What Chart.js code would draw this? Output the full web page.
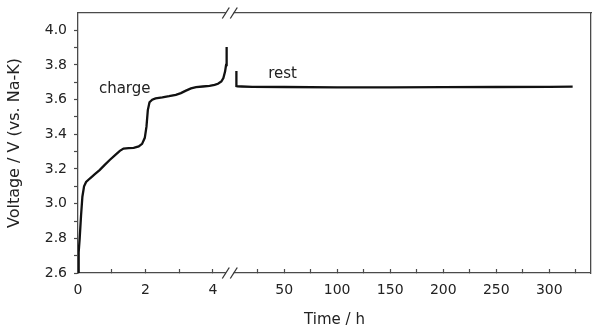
<!DOCTYPE html>
<html>
<head>
<meta charset="utf-8">
<script src="https://cdn.jsdelivr.net/npm/chart.js@4.4.1/dist/chart.umd.min.js"></script>
<style>
html,body{margin:0;padding:0;background:#fff;}
#wrap{width:600px;height:334px;position:relative;}
</style>
</head>
<body>
<div id="wrap"><canvas id="c" width="600" height="334"></canvas></div>
<script>
// ---- data ----
const chargeTime = [0, 0.02, 0.05, 0.09, 0.13, 0.18, 0.24, 0.35, 0.5, 0.64, 0.8, 0.94, 1.1, 1.24, 1.35, 1.5, 1.65, 1.8, 1.9, 1.98, 2.03, 2.07, 2.12, 2.2, 2.3, 2.5, 2.7, 2.9, 3.05, 3.2, 3.35, 3.5, 3.7, 3.9, 4.05, 4.15, 4.25, 4.31, 4.36, 4.39, 4.40, 4.41, 4.41];
const chargeVoltage = [2.6, 2.72, 2.80, 2.93, 3.04, 3.10, 3.125, 3.145, 3.17, 3.194, 3.225, 3.252, 3.28, 3.305, 3.318, 3.32, 3.322, 3.33, 3.345, 3.38, 3.444, 3.54, 3.585, 3.600, 3.607, 3.613, 3.62, 3.628, 3.638, 3.652, 3.665, 3.672, 3.676, 3.68, 3.685, 3.692, 3.705, 3.725, 3.762, 3.80, 3.83, 3.87, 3.904];
const restTime = [5, 5, 6, 10, 20, 50, 100, 150, 200, 250, 300, 322];
const restVoltage = [3.765, 3.678, 3.677, 3.676, 3.674, 3.673, 3.671, 3.671, 3.672, 3.673, 3.674, 3.675];

const yMajorTicks = [2.6, 2.8, 3.0, 3.2, 3.4, 3.6, 3.8, 4.0];
const yMinorTicks = [2.7, 2.9, 3.1, 3.3, 3.5, 3.7, 3.9];
const xLeftMajorTicks = [0, 2, 4];
const xLeftMinorTicks = [1, 3];
const xRightMajorTicks = [50, 100, 150, 200, 250, 300];
const xRightMinorTicks = [25, 75, 125, 175, 225, 275, 325];

const yTitle = 'Voltage / V (vs. Na-K)';
const xTitle = 'Time / h';
const chargeText = 'charge';
const restText = 'rest';
// annotation anchors in data units
const chargeAnchor = [0.62, 3.638];
const restAnchor = [35, 3.724];

// ---- styling ----
const axisColor = '#4a4a4a';
const textColor = '#222';
Chart.defaults.font.family = '"DejaVu Sans", sans-serif';
Chart.defaults.color = textColor;

function makeTicks(major, minor) {
  return major.concat(minor).sort((a, b) => a - b).map(v => ({ value: v }));
}
function toPoints(xs, ys) {
  return xs.map((x, i) => ({ x: x, y: ys[i] }));
}
function noPad(s) {
  s.paddingLeft = 0; s.paddingRight = 0; s.paddingTop = 0; s.paddingBottom = 0;
}

const decor = {
  id: 'decor',
  afterDraw(chart) {
    const { ctx, chartArea: a, scales } = chart;
    const bx = scales.xL.right;
    ctx.save();
    [a.top, a.bottom].forEach(y => {
      ctx.fillStyle = '#fff';
      ctx.fillRect(bx - 4, y - 2, 8, 4);
      ctx.strokeStyle = '#333';
      ctx.lineWidth = 1.3;
      [-4, 4].forEach(dx => {
        ctx.beginPath();
        ctx.moveTo(bx + dx - 3.5, y + 5.5);
        ctx.lineTo(bx + dx + 3.5, y - 5.5);
        ctx.stroke();
      });
    });
    ctx.fillStyle = textColor;
    ctx.font = '15px "DejaVu Sans"';
    ctx.textBaseline = 'alphabetic';
    ctx.textAlign = 'center';
    ctx.fillText(xTitle, (a.left + a.right) / 2, a.bottom + 51);
    ctx.textAlign = 'left';
    ctx.fillText(chargeText, scales.xL.getPixelForValue(chargeAnchor[0]), scales.y.getPixelForValue(chargeAnchor[1]));
    ctx.fillText(restText, scales.xR.getPixelForValue(restAnchor[0]), scales.y.getPixelForValue(restAnchor[1]));
    ctx.restore();
  }
};

const xBottomCommon = {
  type: 'linear',
  position: 'bottom',
  stack: 'bottomStack',
  afterFit: s => { s.height = 25; noPad(s); },
  grid: { display: true, drawOnChartArea: false, drawTicks: true, tickLength: -4, tickColor: axisColor, tickWidth: 1.2 },
  border: { display: true, color: axisColor, width: 1.3 }
};

new Chart(document.getElementById('c'), {
  type: 'line',
  data: {
    datasets: [
      {
        label: 'charge',
        data: toPoints(chargeTime, chargeVoltage),
        xAxisID: 'xL', yAxisID: 'y',
        borderColor: '#111', borderWidth: 2.3, pointRadius: 0, tension: 0, fill: false
      },
      {
        label: 'rest',
        data: toPoints(restTime, restVoltage),
        xAxisID: 'xR', yAxisID: 'y',
        borderColor: '#111', borderWidth: 2.3, pointRadius: 0, tension: 0, fill: false
      }
    ]
  },
  options: {
    responsive: false,
    animation: false,
    devicePixelRatio: 1,
    layout: { padding: { left: 0, top: 13, right: 9, bottom: 36 } },
    plugins: { legend: { display: false }, tooltip: { enabled: false } },
    scales: {
      xL: Object.assign({}, xBottomCommon, {
        stackWeight: 151.7, min: 0, max: 4.5,
        afterBuildTicks: s => { s.ticks = makeTicks(xLeftMajorTicks, xLeftMinorTicks); },
        ticks: { autoSkip: false, maxRotation: 0, padding: 12.8, color: textColor, font: { size: 14 },
          callback: v => xLeftMajorTicks.includes(v) ? String(v) : '' }
      }),
      xR: Object.assign({}, xBottomCommon, {
        stackWeight: 361, min: -1.23, max: 339.3,
        afterBuildTicks: s => { s.ticks = makeTicks(xRightMajorTicks, xRightMinorTicks); },
        ticks: { autoSkip: false, maxRotation: 0, padding: 12.8, color: textColor, font: { size: 14 },
          callback: v => xRightMajorTicks.includes(v) ? String(v) : '' }
      }),
      xT: {
        type: 'linear', position: 'top', min: 0, max: 1,
        afterFit: s => { s.height = 0; noPad(s); },
        ticks: { display: false },
        grid: { display: false, drawTicks: false },
        border: { display: true, color: axisColor, width: 1.3 }
      },
      y: {
        type: 'linear', position: 'left', min: 2.6, max: 4.1,
        afterBuildTicks: s => { s.ticks = makeTicks(yMajorTicks, yMinorTicks); },
        afterFit: s => { s.width = 78; noPad(s); },
        ticks: { autoSkip: false, padding: 7, color: textColor, font: { size: 14 },
          callback: v => yMajorTicks.some(m => Math.abs(m - v) < 1e-9) ? v.toFixed(1) : '' },
        grid: { display: true, drawOnChartArea: false, drawTicks: true, tickLength: 4, tickColor: axisColor, tickWidth: 1.2 },
        border: { display: true, color: axisColor, width: 1.3 },
        title: { display: true, text: yTitle, color: textColor, font: { size: 16 }, padding: { top: 5.4, bottom: 0 } }
      },
      yR: {
        type: 'linear', position: 'right', min: 0, max: 1,
        afterFit: s => { s.width = 0; noPad(s); },
        ticks: { display: false },
        grid: { display: false, drawTicks: false },
        border: { display: true, color: axisColor, width: 1.3 }
      }
    }
  },
  plugins: [decor]
});
</script>
</body>
</html>
